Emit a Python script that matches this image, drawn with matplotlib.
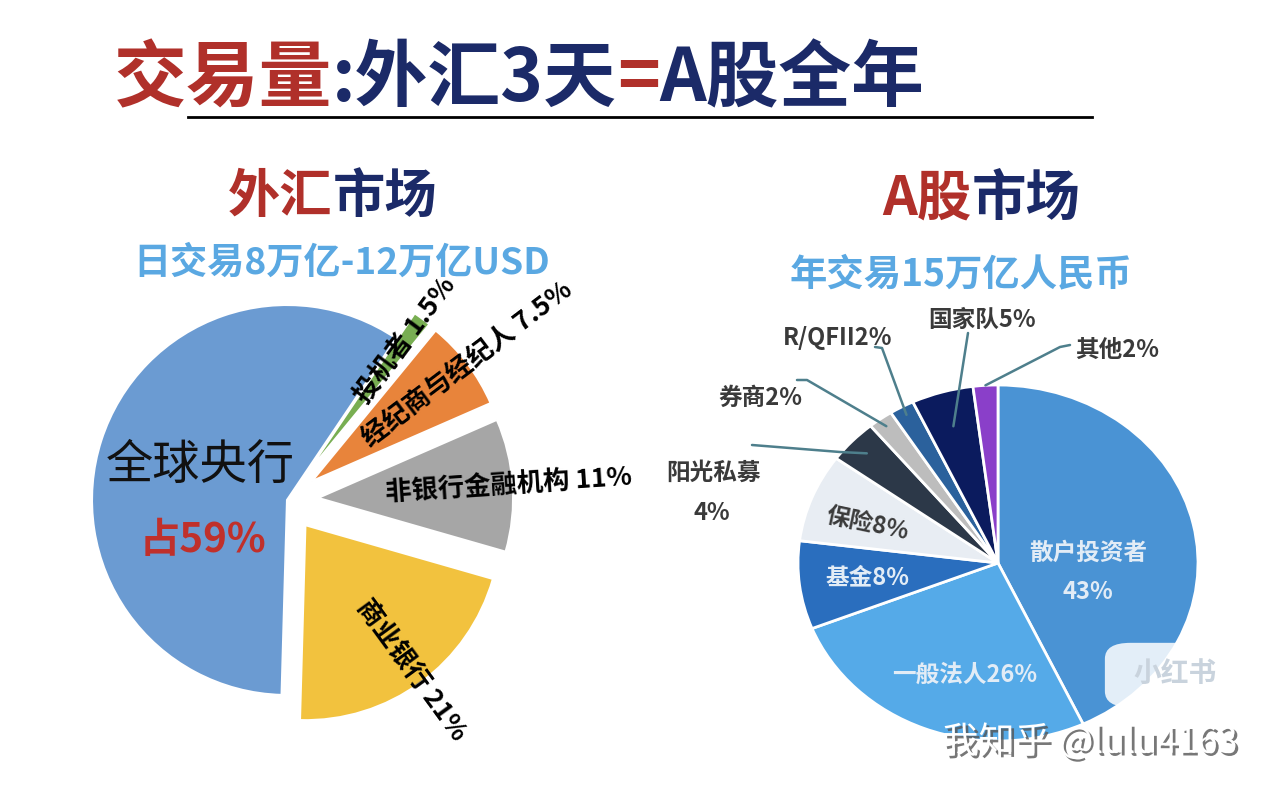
import matplotlib
matplotlib.use("Agg")
import matplotlib.pyplot as plt
import matplotlib.patheffects as pe
from matplotlib.lines import Line2D
from matplotlib.patches import FancyBboxPatch
import numpy as np

plt.rcParams['font.family'] = ['Noto Sans CJK SC', 'DejaVu Sans']

W, H = 1280, 793
RED = '#B0302A'
NAVY = '#1B2A68'
SKY = '#5AA8E2'

# ---------------- data ----------------
title_parts = ['交易量', ':外汇3天', '=', 'A股全年']
fx_title_parts = ['外汇', '市场']
fx_subtitle = '日交易8万亿-12万亿USD'
a_title_parts = ['A股', '市场']
a_subtitle = '年交易15万亿人民币'

fx_labels = ['全球央行', '商业银行', '非银行金融机构', '经纪商与经纪人', '投机者']
fx_values = [59, 21, 11, 7.5, 1.5]

a_labels = ['散户投资者', '一般法人', '基金', '保险', '阳光私募', '券商', 'R/QFII', '国家队', '其他']
a_values = [43, 26, 8, 8, 4, 2, 2, 5, 2]

watermark = '我知乎 @lulu4163'
badge = '小红书'

# ---------------- styles ----------------
fx_colors = ['#6B9BD2', '#F2C23E', '#A6A6A6', '#E8843B', '#78AE52']
a_colors = ['#4A93D4', '#55AAE8', '#2A6EBE', '#E8EDF3', '#2C3848',
            '#BDBDBD', '#2B619C', '#0B1B5E', '#8A3FC9']

fig = plt.figure(figsize=(W / 100, H / 100), dpi=100)
fig.patch.set_facecolor('white')
renderer = fig.canvas.get_renderer()


def fxp(x):
    return x / W


def fyp(y):
    return 1 - y / H


def colored_line(parts, colors, x0, x1, y_base, size, weight):
    texts = [fig.text(0, 0, p, fontsize=size, fontweight=weight, color=c,
                      ha='left', va='baseline') for p, c in zip(parts, colors)]
    widths = [t.get_window_extent(renderer).width for t in texts]
    s = (x1 - x0) / sum(widths)
    for t in texts:
        t.set_fontsize(size * s)
    widths = [t.get_window_extent(renderer).width for t in texts]
    x = x0 + ((x1 - x0) - sum(widths)) / 2
    for t, w in zip(texts, widths):
        t.set_position((fxp(x), fyp(y_base)))
        x += w
    return texts


# ---------------- headings ----------------
colored_line(title_parts, [RED, NAVY, RED, NAVY], 113, 925, 101, 50, 'heavy')
fig.add_artist(Line2D([fxp(188), fxp(1092)], [fyp(117), fyp(117)],
                      color='black', lw=2))

colored_line(fx_title_parts, [RED, NAVY], 228, 437, 212, 36, 'heavy')
colored_line([fx_subtitle], [SKY], 133, 550, 274, 26, 'heavy')
colored_line(a_title_parts, [RED, NAVY], 882, 1080, 215, 36, 'heavy')
colored_line([a_subtitle], [SKY], 790, 1133, 285, 26, 'heavy')

# ---------------- left pie (FX) ----------------
cx, cy, R = 287, 500, 195
axL = fig.add_axes([fxp(60), fyp(720), 600 / W, 440 / H])
wedgesL, _ = axL.pie(fx_values, colors=fx_colors, startangle=56,
                     counterclock=True, explode=[0, .16, .16, .16, .16],
                     wedgeprops=dict(edgecolor='white', linewidth=1.5))
axL.set_aspect('auto')
axL.set_xlim((60 - cx) / R, (660 - cx) / R)
axL.set_ylim((cy - 720) / R, (cy - 280) / R)
axL.axis('off')

label_r = [None, 0.92, 0.98, 1.0, 0.86]
for i in range(1, len(fx_values)):
    w = wedgesL[i]
    mid = (w.theta1 + w.theta2) / 2
    rad = np.deg2rad(mid)
    x0, y0 = w.center
    rot = ((mid + 180) % 360) - 180
    axL.text(x0 + label_r[i] * np.cos(rad), y0 + label_r[i] * np.sin(rad),
             f'{fx_labels[i]} {fx_values[i]:g}%', rotation=rot,
             rotation_mode='anchor', ha='center', va='center',
             fontsize=19, fontweight='bold', color='black')

axL.text((200 - cx) / R, (cy - 466) / R, fx_labels[0], fontsize=34,
         color='#111111', ha='center', va='center')
axL.text((203 - cx) / R, (cy - 540) / R, f'占{fx_values[0]:g}%', fontsize=29,
         fontweight='heavy', color='#C0302B', ha='center', va='center')

# ---------------- right pie (A shares) ----------------
axR = fig.add_axes([fxp(798), fyp(741), 400 / W, 356 / H])
wedgesR, _ = axR.pie(a_values, colors=a_colors, startangle=90,
                     counterclock=False,
                     wedgeprops=dict(edgecolor='white', linewidth=2))
axR.set_aspect('auto')
axR.set_xlim(-1, 1)
axR.set_ylim(-1, 1)
axR.axis('off')
for w in wedgesR:
    w.set_clip_on(False)

LIGHT = '#E2ECF6'
DARK = '#3A3A3A'
WT = 'semibold'
# inside labels
fig.text(fxp(1088), fyp(553), a_labels[0], fontsize=17, color=LIGHT,
         ha='center', va='center', fontweight=WT)
fig.text(fxp(1088), fyp(592), f'{a_values[0]}%', fontsize=17, color=LIGHT,
         ha='center', va='center', fontweight=WT)
fig.text(fxp(965), fyp(675), f'{a_labels[1]}{a_values[1]}%', fontsize=17,
         color=LIGHT, ha='center', va='center', fontweight=WT)
fig.text(fxp(867), fyp(577), f'{a_labels[2]}{a_values[2]}%', fontsize=17,
         color=LIGHT, ha='center', va='center', fontweight=WT)
fig.text(fxp(868), fyp(524), f'{a_labels[3]}{a_values[3]}%', fontsize=17,
         color=DARK, ha='center', va='center', rotation=-12,
         rotation_mode='anchor', fontweight=WT)

# outside labels with leader lines
LEAD = '#4E7F8C'
outer_text_pos = {4: [(713, 473), (712, 513)], 5: [(760, 398)],
                  6: [(838, 338)], 7: [(982, 320)], 8: [(1117, 350)]}
outer_line = {4: [(752, 445), (840, 452)], 5: [(797, 380), (807, 380)],
              6: [(875, 347), (882, 348)], 7: [(968, 333)],
              8: [(1070, 345), (1060, 347)]}
outer_r = {4: 0.9, 5: 0.95, 6: 0.95, 7: 0.8, 8: 1.0}

for i in range(4, 9):
    pos = outer_text_pos[i]
    if len(pos) == 2:
        fig.text(fxp(pos[0][0]), fyp(pos[0][1]), a_labels[i], fontsize=17,
                 color=DARK, ha='center', va='center', fontweight=WT)
        fig.text(fxp(pos[1][0]), fyp(pos[1][1]), f'{a_values[i]}%',
                 fontsize=17, color=DARK, ha='center', va='center',
                 fontweight=WT)
    else:
        fig.text(fxp(pos[0][0]), fyp(pos[0][1]), f'{a_labels[i]}{a_values[i]}%',
                 fontsize=17, color=DARK, ha='center', va='center',
                 fontweight=WT)
    w = wedgesR[i]
    mid = np.deg2rad((w.theta1 + w.theta2) / 2)
    r = outer_r[i]
    disp = axR.transData.transform((r * np.cos(mid), r * np.sin(mid)))
    end = fig.transFigure.inverted().transform(disp)
    xs = [fxp(p[0]) for p in outer_line[i]] + [end[0]]
    ys = [fyp(p[1]) for p in outer_line[i]] + [end[1]]
    fig.add_artist(Line2D(xs, ys, color=LEAD, lw=1.8, solid_capstyle='round'))

# ---------------- watermarks ----------------
box = FancyBboxPatch((fxp(1110), fyp(704)), 130 / W, 58 / H,
                     boxstyle='round,pad=0.004,rounding_size=0.02',
                     transform=fig.transFigure, facecolor='white',
                     edgecolor='none', alpha=0.85, zorder=5)
fig.add_artist(box)
fig.text(fxp(1175), fyp(674), badge, fontsize=20, fontweight='bold',
         color='#C9D3DD', ha='center', va='center', zorder=6)
fig.text(fxp(1090), fyp(742), watermark, fontsize=26, color='white',
         ha='center', va='center', zorder=6,
         path_effects=[pe.withSimplePatchShadow(offset=(2, -2),
                                                shadow_rgbFace='#555555',
                                                alpha=0.8)])

fig.savefig('out.png', dpi=100, facecolor='white')
